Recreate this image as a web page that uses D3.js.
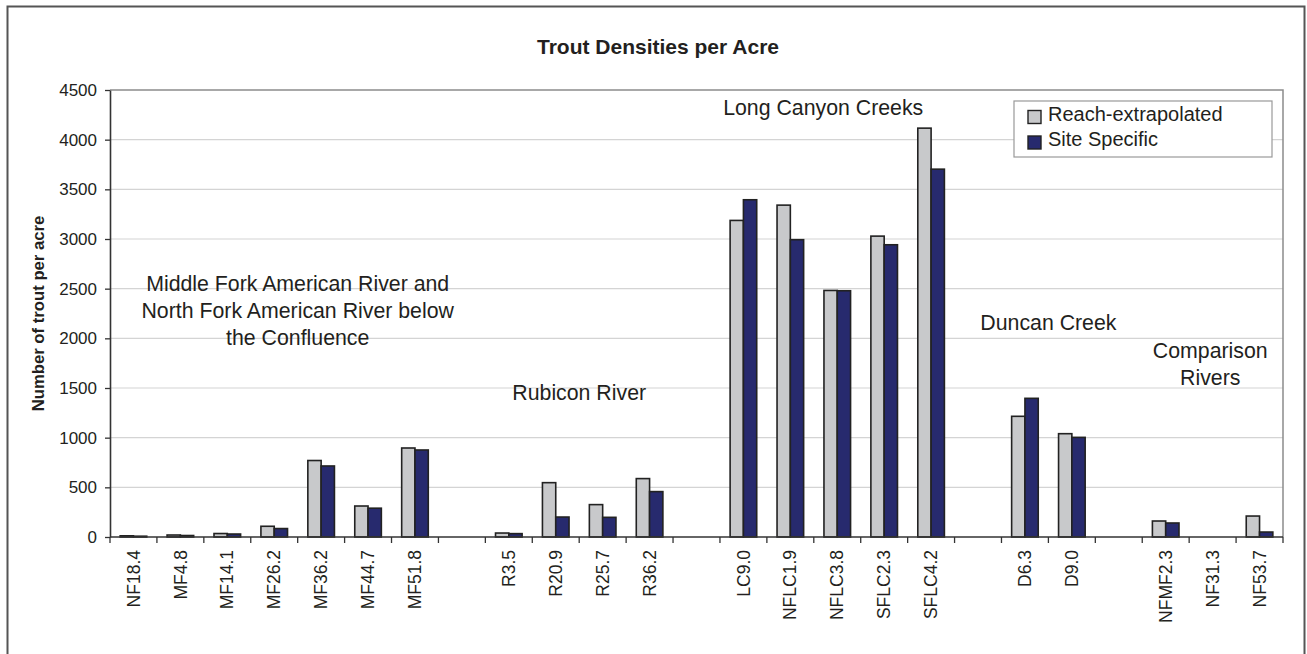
<!DOCTYPE html>
<html>

<head>
    <meta charset="utf-8">
    <script src="https://cdn.jsdelivr.net/npm/d3@7"></script>
    <style>
        body { margin: 0; background: #fff; }
        text { font-family: Arial, "Liberation Sans", sans-serif; fill: #231f20; }
    </style>
</head>

<body>

    <script>

        // sites along the x axis; blank entries are the gaps between river groups
        var sites = ["NF18.4", "MF4.8", "MF14.1", "MF26.2", "MF36.2", "MF44.7", "MF51.8", "",
            "R3.5", "R20.9", "R25.7", "R36.2", "",
            "LC9.0", "NFLC1.9", "NFLC3.8", "SFLC2.3", "SFLC4.2", "",
            "D6.3", "D9.0", "",
            "NFMF2.3", "NF31.3", "NF53.7"];

        var reachExtrapolated = [12, 20, 35, 108, 770, 312, 896, null,
            40, 547, 326, 588, null,
            3187, 3341, 2482, 3029, 4116, null,
            1215, 1040, null,
            161, 0, 211];

        var siteSpecific = [8, 15, 30, 85, 715, 290, 876, null,
            34, 201, 198, 457, null,
            3395, 2993, 2479, 2942, 3703, null,
            1396, 1003, null,
            141, 0, 50];

        var seriesNames = ["Reach-extrapolated", "Site Specific"];
        var seriesColors = ["#c8c9cb", "#272a6e"];
        var yTicks = [0, 500, 1000, 1500, 2000, 2500, 3000, 3500, 4000, 4500];

        // group captions: text lines, category position the text is centred on, value of the first baseline
        var groups = [
            { lines: ["Middle Fork American River and", "North Fork American River below", "the Confluence"], at: 4.0, y: 2475 },
            { lines: ["Rubicon River"], at: 10.0, y: 1375 },
            { lines: ["Long Canyon Creeks"], at: 15.2, y: 4245 },
            { lines: ["Duncan Creek"], at: 20.0, y: 2080 },
            { lines: ["Comparison", "Rivers"], at: 23.45, y: 1800 }
        ];

        var W = 1307, H = 654;
        var margin = { left: 110, right: 24, top: 90, bottom: 117 };

        var svg = d3.select('body')
            .append('svg')
            .attr('width', W)
            .attr('height', H);

        // outer chart frame
        svg.append('rect')
            .attr('x', 7.5).attr('y', 6.5)
            .attr('width', 1297).attr('height', 655)
            .attr('fill', 'none')
            .attr('stroke', '#555')
            .attr('stroke-width', 2);

        var x = d3.scaleBand()
            .domain(d3.range(sites.length))
            .range([margin.left, W - margin.right]);

        var y = d3.scaleLinear()
            .domain([0, 4500])
            .range([H - margin.bottom, margin.top]);

        // gridlines
        svg.append('g')
            .selectAll('line')
            .data(yTicks.slice(1, -1))
            .join('line')
            .attr('x1', margin.left).attr('x2', W - margin.right)
            .attr('y1', d => y(d)).attr('y2', d => y(d))
            .attr('stroke', '#d4d4d4')
            .attr('stroke-width', 1.2);

        // plot area border (top and right are grey)
        svg.append('path')
            .attr('d', `M${margin.left},${y(4500)}H${W - margin.right}V${y(0)}`)
            .attr('fill', 'none')
            .attr('stroke', '#8c8c8c')
            .attr('stroke-width', 1.5);

        // bars
        var inner = d3.scaleBand()
            .domain([0, 1])
            .range([0, 26.6]);
        var pad = (x.bandwidth() - 26.6) / 2;

        [reachExtrapolated, siteSpecific].forEach(function (values, s) {
            svg.append('g')
                .selectAll('rect')
                .data(values.map((v, i) => ({ v: v, i: i })).filter(d => d.v))
                .join('rect')
                .attr('x', d => x(d.i) + pad + inner(s))
                .attr('y', d => y(d.v))
                .attr('width', inner.bandwidth())
                .attr('height', d => y(0) - y(d.v))
                .attr('fill', seriesColors[s])
                .attr('stroke', '#222')
                .attr('stroke-width', 1.6);
        });

        // y axis
        var yAxis = svg.append('g')
            .attr('transform', `translate(${margin.left},0)`)
            .call(d3.axisLeft(y).tickValues(yTicks).tickFormat(d3.format('d'))
                .tickSize(5).tickPadding(8).tickSizeOuter(0));
        yAxis.select('.domain').attr('stroke', '#333').attr('stroke-width', 1.6);
        yAxis.selectAll('.tick line').attr('stroke', '#333').attr('stroke-width', 1.3);
        yAxis.selectAll('text')
            .style('font-size', '17px')
            .attr('fill', '#231f20');

        // x axis: ticks sit between categories, labels are rotated
        var xAxis = svg.append('g')
            .attr('transform', `translate(0,${y(0)})`);
        xAxis.append('line')
            .attr('x1', margin.left).attr('x2', W - margin.right)
            .attr('stroke', '#333').attr('stroke-width', 1.6);
        xAxis.selectAll('.tk')
            .data(d3.range(sites.length + 1))
            .join('line')
            .attr('class', 'tk')
            .attr('x1', d => margin.left + d * x.step())
            .attr('x2', d => margin.left + d * x.step())
            .attr('y1', 0).attr('y2', 6)
            .attr('stroke', '#333').attr('stroke-width', 1.3);
        xAxis.selectAll('.lbl')
            .data(sites)
            .join('text')
            .attr('class', 'lbl')
            .attr('transform', (d, i) => `translate(${x(i) + x.bandwidth() / 2},13) rotate(-90)`)
            .attr('text-anchor', 'end')
            .attr('dy', '0.35em')
            .style('font-size', '17.5px')
            .text(d => d);

        // group captions
        groups.forEach(function (g) {
            var cx = x(Math.floor(g.at)) + (g.at % 1) * x.step();
            var t = svg.append('text')
                .attr('x', cx)
                .attr('y', y(g.y))
                .attr('text-anchor', 'middle')
                .style('font-size', '21.3px');
            g.lines.forEach(function (line, k) {
                t.append('tspan')
                    .attr('x', cx)
                    .attr('dy', k ? 27 : 0)
                    .text(line);
            });
        });

        // title
        svg.append('text')
            .attr('x', 658)
            .attr('y', 54)
            .attr('text-anchor', 'middle')
            .style('font-size', '21px')
            .style('font-weight', 'bold')
            .text('Trout Densities per Acre');

        // y axis title
        svg.append('text')
            .attr('transform', `translate(44,${(y(0) + y(4500)) / 2}) rotate(-90)`)
            .attr('text-anchor', 'middle')
            .style('font-size', '16.7px')
            .style('font-weight', 'bold')
            .text('Number of trout per acre');

        // legend
        var legend = svg.append('g')
            .attr('transform', 'translate(1014,101)');
        legend.append('rect')
            .attr('width', 258).attr('height', 56)
            .attr('fill', '#fff')
            .attr('stroke', '#999')
            .attr('stroke-width', 1.2);
        seriesNames.forEach(function (name, s) {
            legend.append('rect')
                .attr('x', 14).attr('y', 9.5 + s * 25.5)
                .attr('width', 13).attr('height', 13)
                .attr('fill', seriesColors[s])
                .attr('stroke', '#222')
                .attr('stroke-width', 1.4);
            legend.append('text')
                .attr('x', 34).attr('y', 19.5 + s * 25.5)
                .style('font-size', '20px')
                .text(name);
        });
    </script>

</body>

</html>
